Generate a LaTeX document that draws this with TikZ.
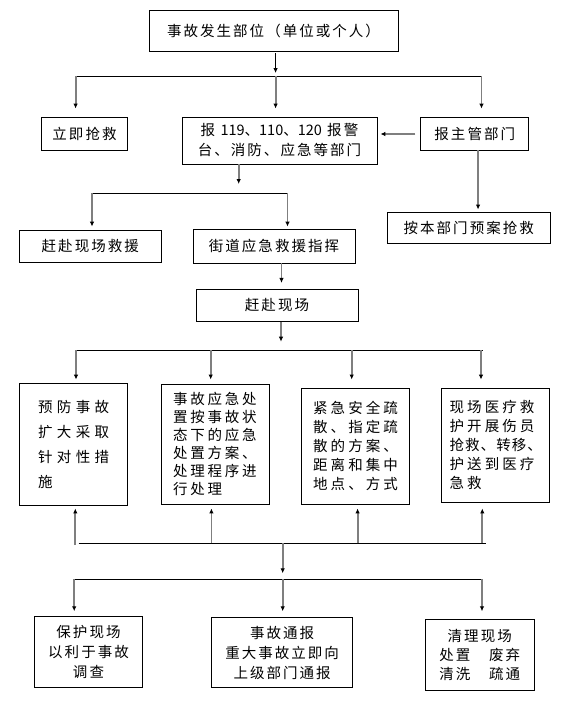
\documentclass[tikz,border=0pt]{standalone}
\usepackage{fontspec}
\newfontfamily\cjk{Noto Sans CJK SC}
\usetikzlibrary{arrows.meta}
\definecolor{conngray}{HTML}{7F7F7F}
\newcommand\nosp[1]{{\addfontfeature{LetterSpace=0}#1}}
\tikzset{
  box/.style={draw=black, line width=0.8pt, rectangle, inner sep=0pt, anchor=center},
  cjkfont/.style={font=\cjk\fontsize{14.5}{#1}\selectfont\addfontfeature{LetterSpace=14}},
  rowfont/.style 2 args={font=\cjk\fontsize{14.5}{#1}\selectfont\addfontfeature{LetterSpace=#2}},
  bus/.style={draw=black, line width=0.8pt},
  conn/.style={draw=conngray, line width=1.8pt, -{Latex[length=5pt,width=4.5pt,black]}},
  topconn/.style={draw=black, line width=0.8pt, -{Latex[length=5pt,width=4.5pt,black]}},
}
\begin{document}
\begin{tikzpicture}[x=1pt,y=-1pt]
\useasboundingbox (0,0) rectangle (577,713);
% nodes
\node[box, cjkfont=16, minimum width=249pt, minimum height=41pt] (top) at (273.5,30.5) {事故发生部位（单位或个人）};
\node[box, cjkfont=16, minimum width=86.4pt, minimum height=33pt] (lj) at (84.5,133.5) {立即抢救};
\node[box, cjkfont=20, align=center, minimum width=195pt, minimum height=47pt] (bj) at (279.5,140.5) {报 \nosp{119}、\nosp{110}、\nosp{120} 报警\\台、消防、应急等部门};
\node[box, cjkfont=16, minimum width=108pt, minimum height=33pt] (zg) at (474.75,133.5) {报主管部门};
\node[box, cjkfont=16, minimum width=162.5pt, minimum height=31pt] (ba) at (468.75,227.5) {按本部门预案抢救};
\node[box, cjkfont=16, minimum width=141.4pt, minimum height=32pt] (gz) at (90.3,246) {赶赴现场救援};
\node[box, cjkfont=16, minimum width=162pt, minimum height=34pt] (jd) at (274,246) {街道应急救援指挥};
\node[box, cjkfont=16, minimum width=162pt, minimum height=32.4pt] (gf) at (277,305.5) {赶赴现场};
\node[box, align=left, rowfont={25.3}{30}, minimum width=108pt, minimum height=122.4pt] (r1) at (73.65,444.5) {预防事故\\扩大采取\\针对性措\\施};
\node[box, align=left, rowfont={18}{19}, minimum width=108pt, minimum height=120pt] (r2) at (215,444.3) {事故应急处\\置按事故状\\态下的应急\\处置方案、\\处理程序进\\行处理};
\node[box, align=left, rowfont={19}{21}, minimum width=108pt, minimum height=116pt] (r3) at (355.5,446.3) {紧急安全疏\\散、指定疏\\散的方案、\\距离和集中\\地点、方式};
\node[box, align=left, rowfont={19}{21}, minimum width=108pt, minimum height=114pt] (r4) at (495.75,445.3) {现场医疗救\\护开展伤员\\{\addfontfeature{LetterSpace=7}抢救、转移、}\\护送到医疗\\急救};
\node[box, cjkfont=19.7, align=center, minimum width=108.5pt, minimum height=70.3pt] (b1) at (88.5,651.8) {保护现场\\以利于事故\\调查};
\node[box, cjkfont=20, align=center, minimum width=140.6pt, minimum height=69.6pt] (b2) at (282.1,652.5) {事故通报\\重大事故立即向\\上级部门通报};
\node[box, cjkfont=19.2, align=center, minimum width=108.5pt, minimum height=71pt] (b3) at (479.75,654.8) {清理现场\\处置　废弃\\清洗　疏通};
% bus coordinates
\coordinate (c1) at (275.6,76);
\coordinate (c1l) at (75.6,76);
\coordinate (c1r) at (481.5,76);
\coordinate (c2) at (238.7,193);
\coordinate (c2l) at (92,193);
\coordinate (c2r) at (287.5,193);
\coordinate (c3) at (281,350.3);
\coordinate (c3l) at (75,350.3);
\coordinate (c3r) at (483.4,350.3);
\coordinate (d1) at (76,350.3);
\coordinate (d2) at (210.7,350.3);
\coordinate (d3) at (351.7,350.3);
\coordinate (d4) at (481,350.3);
\coordinate (u1) at (75.3,545);
\coordinate (ul) at (78.6,543.3);
\coordinate (u2) at (211.4,543.3);
\coordinate (u3) at (357.6,543.3);
\coordinate (u4) at (482.3,543.3);
\coordinate (c4) at (282.7,543.3);
\coordinate (c4r) at (486.3,543.3);
\coordinate (c5) at (282.7,579.3);
\coordinate (c5l) at (74.2,579.3);
\coordinate (c5r) at (482,579.3);
% buses
\draw[bus] (c1l) -- (c1r);
\draw[bus] (c2l) -- (c2r);
\draw[bus] (c3l) -- (c3r);
\draw[bus] (ul) -- (c4r);
\draw[bus] (c5l) -- (c5r);
% connectors
\draw[topconn, shorten <=2pt, shorten >=3pt] (top.south -| c1) -- (c1);
\draw[conn, shorten >=8pt] (c1l) -- (c1l |- lj.north);
\draw[conn, shorten >=8pt] (c1) -- (c1 |- bj.north);
\draw[conn, shorten >=8pt] (c1r) -- (c1r |- zg.north);
\draw[conn, shorten <=5pt, shorten >=3pt] ([yshift=-0.5pt]zg.west) -- ([yshift=-0.5pt]zg.west -| bj.east);
\draw[conn, shorten >=2pt] ([xshift=3.3pt]zg.south) -- ([xshift=3.3pt]zg.south |- ba.north);
\draw[conn, shorten >=9pt] (c2 |- bj.south) -- (c2);
\draw[conn, shorten >=3pt] (c2l) -- (c2l |- gz.north);
\draw[conn, shorten >=2pt] (c2r) -- (c2r |- jd.north);
\draw[conn, shorten >=6pt] ([xshift=7.5pt]jd.south) -- ([xshift=7.5pt]jd.south |- gf.north);
\draw[conn, shorten >=8.6pt] (c3 |- gf.south) -- (c3);
\draw[conn, shorten >=3.3pt] (d1) -- (d1 |- r1.north);
\draw[conn, shorten >=4.3pt] (d2) -- (d2 |- r2.north);
\draw[conn, shorten >=8.3pt] (d3) -- (d3 |- r3.north);
\draw[conn, shorten >=8.3pt] (d4) -- (d4 |- r4.north);
\draw[conn, shorten >=2.3pt] (u1) -- (u1 |- r1.south);
\draw[conn, shorten >=3.7pt] (u2) -- (u2 |- r2.south);
\draw[conn, shorten >=3.7pt] (u3) -- (u3 |- r3.south);
\draw[conn, shorten >=5.7pt] (u4) -- (u4 |- r4.south);
\draw[conn, shorten >=6pt] (c4) -- (c5);
\draw[conn, shorten >=5pt] (c5l) -- (c5l |- b1.north);
\draw[conn, shorten >=6pt] (c5) -- (c5 |- b2.north);
\draw[conn, shorten >=7.6pt] (c5r) -- (c5r |- b3.north);
\end{tikzpicture}
\end{document}
